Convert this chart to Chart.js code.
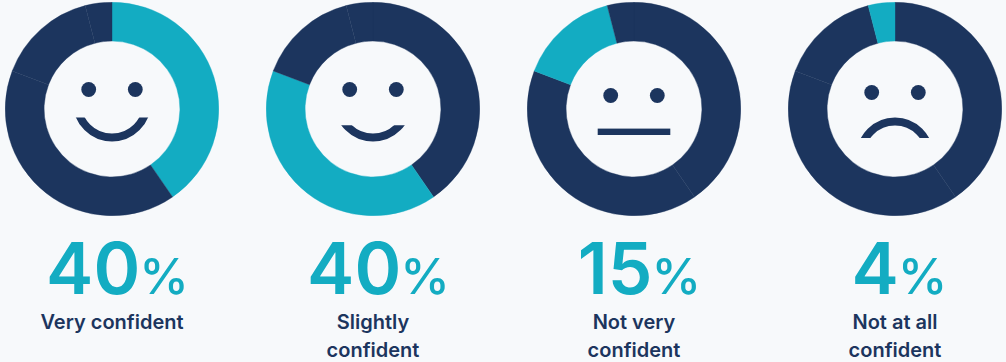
<!DOCTYPE html>
<html>
<head>
<meta charset="utf-8">
<script src="https://cdn.jsdelivr.net/npm/chart.js@4"></script>
<style>
  html, body { margin: 0; padding: 0; background: #f7f9fb; }
  body { width: 1006px; height: 362px; position: relative; overflow: hidden; font-family: Inter, sans-serif; }
  .ring { position: absolute; top: 2px; width: 214px; height: 214px; }
  .pct, .name { position: absolute; width: 240px; text-align: center; }
  .pct { top: 225px; height: 80px; line-height: 86px; color: #13acc2; font-size: 71px; font-weight: 600; white-space: nowrap; }
  .pct span { font-size: 50px; font-weight: 500; margin-left: -1px; }
  .name { top: 308px; color: #1c355e; font-size: 20px; font-weight: 600; line-height: 28px; }
  .name div { white-space: nowrap; }
</style>
</head>
<body>
<script>
const segments = [40, 40, 15, 4];   // same four answers in every ring, only the teal one changes
const categories = ['Very confident', 'Slightly confident', 'Not very confident', 'Not at all confident'];
const nameLines = [['Very confident'], ['Slightly', 'confident'], ['Not very', 'confident'], ['Not at all', 'confident']];
const percentLabels = ['40', '40', '15', '4'];
const centers = [112, 373, 634, 895];
const pctCenters = [117.5, 378.5, 639.5, 899.5];
const navy = '#1c355e';
const teal = '#13acc2';

// faces, offsets from the ring center
const eyeY = [-19.5, -19.5, -13.5, -16.5];
const faces = [
  { type: 'arc', cy: -6.5, r: 35, clipTop: 8.6, up: false },
  { type: 'arc', cy: -6.5, r: 35, clipTop: 16.3, up: false },
  { type: 'line' },
  { type: 'arc', cy: 47, r: 34.5, clipBottom: 29, up: true }
];

const facePlugin = {
  id: 'face',
  afterDraw(chart, args, opts) {
    const ctx = chart.ctx;
    const arc = chart.getDatasetMeta(0).data[0];
    const cx = arc.x, cy = arc.y;
    const f = faces[opts.index];
    ctx.save();
    ctx.fillStyle = navy;
    ctx.strokeStyle = navy;
    for (const dx of [-23.3, 23.3]) {
      ctx.beginPath();
      ctx.arc(cx + dx, cy + eyeY[opts.index], 7.4, 0, Math.PI * 2);
      ctx.fill();
    }
    if (f.type === 'line') {
      ctx.fillRect(cx - 36.3, cy + 19.6, 72.6, 6.4);
    } else {
      ctx.beginPath();
      if (f.up) ctx.rect(cx - 60, cy - 60, 120, 60 + f.clipBottom);
      else ctx.rect(cx - 60, cy + f.clipTop, 120, 60);
      ctx.clip();
      ctx.lineWidth = 8;
      ctx.beginPath();
      ctx.arc(cx, cy + f.cy, f.r, 0, Math.PI * 2);
      ctx.stroke();
    }
    ctx.restore();
  }
};

categories.forEach((cat, i) => {
  const canvas = document.createElement('canvas');
  const wrap = document.createElement('div');
  wrap.className = 'ring';
  wrap.style.left = (centers[i] - 107) + 'px';
  wrap.appendChild(canvas);
  document.body.appendChild(wrap);

  const colors = segments.map((v, k) => k === i ? teal : navy);
  new Chart(canvas, {
    type: 'doughnut',
    data: {
      labels: categories,
      datasets: [{
        data: segments,
        backgroundColor: colors,
        borderColor: colors,   // thin same-colour border so the seams stay faint
        borderWidth: 0.4
      }]
    },
    options: {
      responsive: true,
      maintainAspectRatio: false,
      animation: false,
      cutout: '63.6%',
      plugins: {
        legend: { display: false },
        tooltip: { enabled: false },
        face: { index: i }
      }
    },
    plugins: [facePlugin]
  });

  const pct = document.createElement('div');
  pct.className = 'pct';
  pct.style.left = (pctCenters[i] - 120) + 'px';
  pct.innerHTML = percentLabels[i] + '<span>%</span>';
  document.body.appendChild(pct);

  const name = document.createElement('div');
  name.className = 'name';
  name.style.left = (centers[i] - 120) + 'px';
  name.innerHTML = nameLines[i].map(l => '<div>' + l + '</div>').join('');
  document.body.appendChild(name);
});
</script>
</body>
</html>
